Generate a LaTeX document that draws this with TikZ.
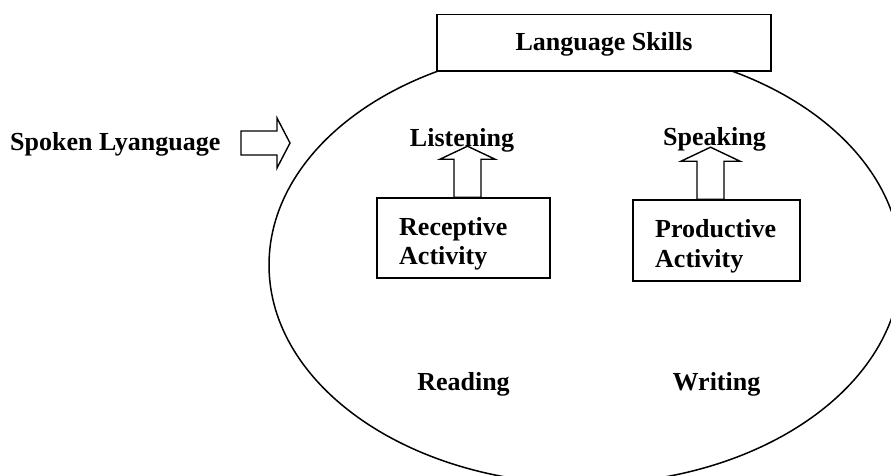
\documentclass[tikz,border=0pt]{standalone}
\usepackage{fontspec}
\setmainfont{Liberation Serif}
\begin{document}
\begin{tikzpicture}[x=1pt,y=-1pt,
  lbl/.style={font=\fontsize{26}{29}\selectfont\bfseries, inner sep=0pt},
  boxn/.style={draw, fill=white, line width=1.6pt, inner sep=0pt},
  hollow/.style={draw, fill=white, line width=1.4pt, line join=miter}]
\useasboundingbox (0,0) rectangle (891,475);
% ellipse
\begin{scope}
  \clip (0,0) rectangle (891,475);
  \draw[line width=1.5pt] (585,265) ellipse [x radius=316pt, y radius=219pt];
\end{scope}
% title box
\node[boxn, minimum width=334pt, minimum height=56.5pt] (ls) at (604,42.75) {};
\node[lbl, anchor=base] (lst) at (604,50) {Language Skills};
% activity boxes
\node[boxn, minimum width=173pt, minimum height=80pt] (rec) at (463.5,238) {};
\node[lbl, anchor=base west] (rect) at (399,235) {Receptive};
\node[lbl, anchor=base west] (rect2) at (399,264) {Activity};
\node[boxn, minimum width=167pt, minimum height=81pt] (pro) at (716.5,240.5) {};
\node[lbl, anchor=base west] (prot) at (655,237) {Productive};
\node[lbl, anchor=base west] (prot2) at (655,267) {Activity};
% skill labels
\node[lbl, anchor=base] (lis) at (462,146) {Listening};
\node[lbl, anchor=base] (spk) at (714.5,145) {Speaking};
\node[lbl, anchor=base] (rea) at (463.5,390) {Reading};
\node[lbl, anchor=base] (wri) at (716.5,390) {Writing};
\node[lbl, anchor=base west] (spo) at (10,150) {Spoken Lyanguage};
% hollow up arrows (from activity box top towards the skill label)
\coordinate (la) at (rec.north -| 467.5,0);
\draw[hollow] (la) ++(-13.5,0) -- ++(0,-38) -- ++(-14,0) -- ++(27.5,-13) -- ++(27.5,13) -- ++(-14,0) -- ++(0,38) -- cycle;
\coordinate (sa) at (pro.north -| 710.5,0);
\draw[hollow] (sa) ++(-13.5,0) -- ++(0,-38) -- ++(-16,0) -- ++(29.5,-14) -- ++(29.5,14) -- ++(-16,0) -- ++(0,38) -- cycle;
% spoken arrow
\coordinate (ta) at (241,143);
\draw[hollow] (ta) ++(0,-12) -- ++(36,0) -- ++(0,-13) -- ++(13,25) -- ++(-13,25) -- ++(0,-13) -- ++(-36,0) -- cycle;
\end{tikzpicture}
\end{document}
